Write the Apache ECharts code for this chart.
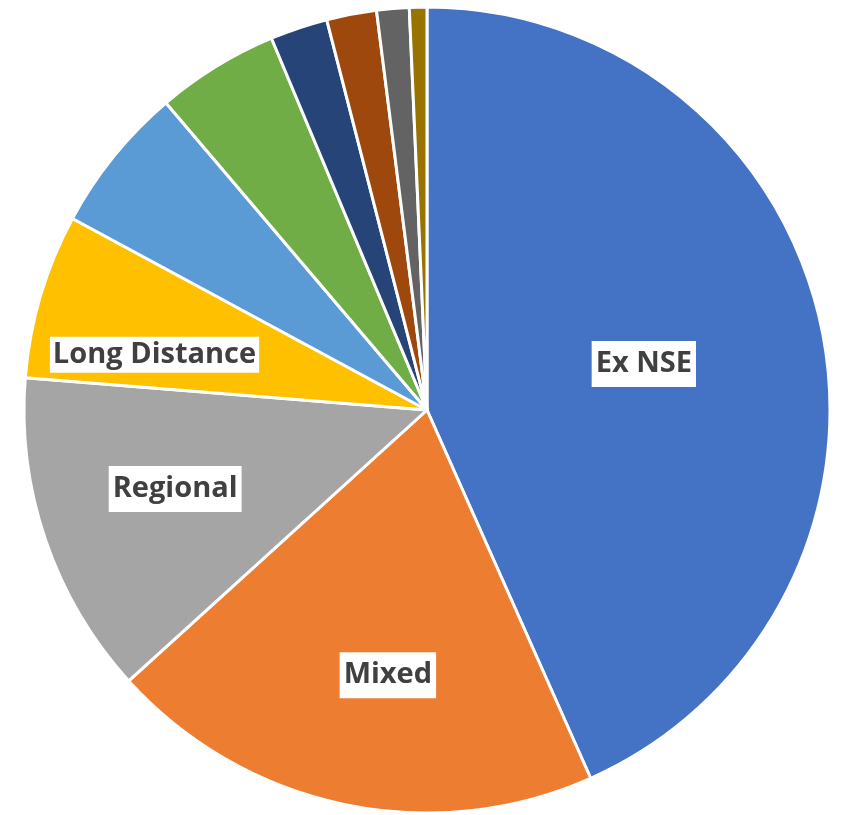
<!DOCTYPE html>
<html>
<head>
<meta charset="utf-8">
<script src="https://cdn.jsdelivr.net/npm/echarts@6/dist/echarts.min.js"></script>
<style>
html,body{margin:0;padding:0;background:#fff;}
#chart{width:845px;height:815px;}
</style>
</head>
<body>
<div id="chart"></div>
<script>
// Data (percent shares, clockwise from 12 o'clock)
const categories = ['Ex NSE', 'Mixed', 'Regional', 'Long Distance', 'Other 1', 'Other 2', 'Other 3', 'Other 4', 'Other 5', 'Other 6'];
const values = [43.3, 19.9, 13.0, 6.6, 5.9, 4.9, 2.3, 2.0, 1.3, 0.7];
const labelled = ['Ex NSE', 'Mixed', 'Regional', 'Long Distance'];

// Styles
const colors = ['#4472C4', '#ED7D31', '#A5A5A5', '#FFC000', '#5B9BD5', '#70AD47', '#264478', '#9E480E', '#636363', '#997300'];
const CENTER = [427, 410];
const RADIUS = 403;
// label placement: [radius fraction, angle shift in degrees (clockwise)]
const labelPlace = {
  'Ex NSE': [0.55, 0],
  'Mixed': [0.665, -3.5],
  'Regional': [0.655, 1.4],
  'Long Distance': [0.69, -5]
};

const chart = echarts.init(document.getElementById('chart'));
const data = categories.map((name, i) => {
  const item = { name: name, value: values[i], itemStyle: { color: colors[i] } };
  if (labelled.indexOf(name) < 0) {
    item.label = { show: false };
  } else if (name === 'Long Distance') {
    item.label = { padding: [2, 3, 2, 3] };
  }
  return item;
});

chart.setOption({
  animation: false,
  backgroundColor: '#ffffff',
  series: [{
    type: 'pie',
    center: CENTER,
    radius: [0, RADIUS],
    startAngle: 90,
    clockwise: true,
    avoidLabelOverlap: false,
    itemStyle: { borderColor: '#ffffff', borderWidth: 3 },
    label: {
      show: true,
      position: 'inside',
      formatter: '{b}',
      color: '#404040',
      fontFamily: 'Open Sans',
      fontWeight: 'bold',
      fontSize: 29,
      lineHeight: 32,
      backgroundColor: '#ffffff',
      padding: [7, 4, 7, 4]
    },
    labelLine: { show: false },
    emphasis: { disabled: true },
    labelLayout: function (params) {
      const name = categories[params.dataIndex];
      const p = labelPlace[name];
      if (!p) return {};
      const r = params.labelRect;
      const cx = r.x + r.width / 2;
      const cy = r.y + r.height / 2;
      let ang = Math.atan2(cx - CENTER[0], -(cy - CENTER[1]));
      ang += p[1] * Math.PI / 180;
      const dist = p[0] * RADIUS;
      const tx = CENTER[0] + dist * Math.sin(ang);
      const ty = CENTER[1] - dist * Math.cos(ang);
      return { dx: tx - cx, dy: ty - cy };
    },
    data: data
  }]
});
</script>
</body>
</html>
